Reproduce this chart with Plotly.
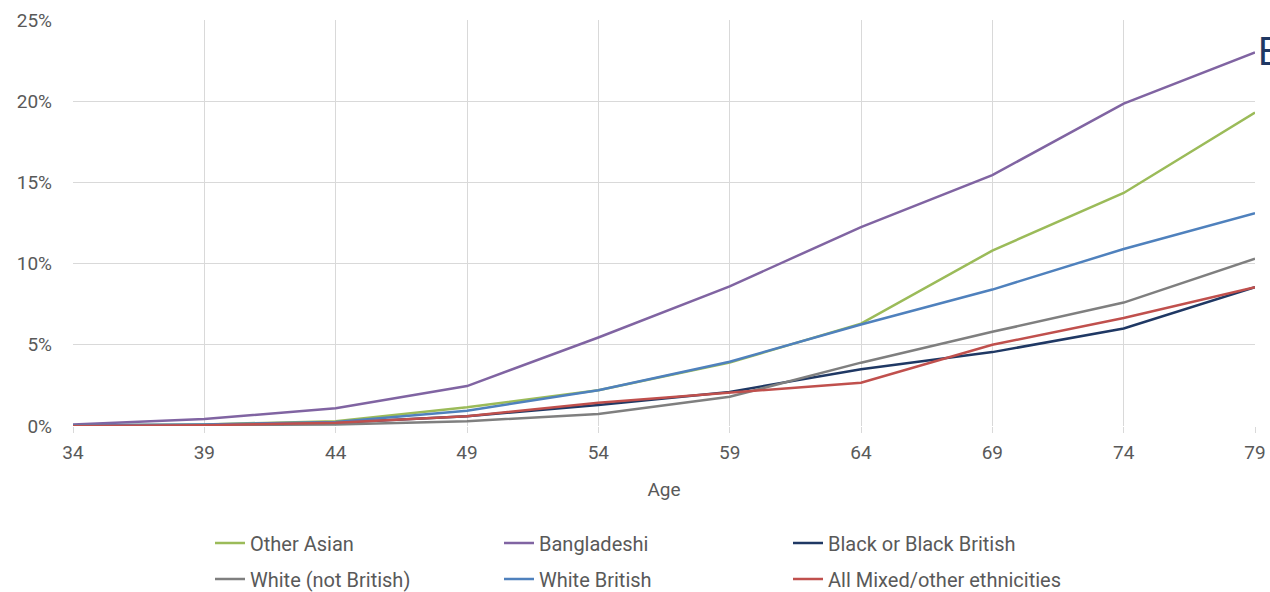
import plotly.graph_objects as go

ages = [34, 39, 44, 49, 54, 59, 64, 69, 74, 79]

other_asian = [0.05, 0.1, 0.3, 1.15, 2.2, 3.9, 6.3, 10.8, 14.35, 19.3]
bangladeshi = [0.1, 0.43, 1.1, 2.46, 5.45, 8.6, 12.25, 15.45, 19.85, 23.0]
black_british = [0.0, 0.05, 0.2, 0.6, 1.3, 2.1, 3.5, 4.55, 6.0, 8.55]
white_not_british = [0.0, 0.05, 0.1, 0.3, 0.74, 1.8, 3.9, 5.8, 7.6, 10.3]
white_british = [0.05, 0.1, 0.25, 0.94, 2.2, 3.96, 6.25, 8.4, 10.9, 13.1]
mixed_other = [0.0, 0.05, 0.2, 0.6, 1.43, 2.05, 2.67, 5.0, 6.65, 8.55]

series = [
    ("Other Asian", other_asian, "#9BBB59", "legend"),
    ("Bangladeshi", bangladeshi, "#8064A2", "legend"),
    ("Black or Black British", black_british, "#1F3864", "legend"),
    ("White (not British)", white_not_british, "#7F7F7F", "legend2"),
    ("White British", white_british, "#4F81BD", "legend2"),
    ("All Mixed/other ethnicities", mixed_other, "#C0504D", "legend2"),
]

font_family = "Roboto, Noto Sans, sans-serif"
text_color = "#595959"

fig = go.Figure()
for name, vals, color, lg in series:
    fig.add_trace(go.Scatter(
        x=ages, y=[v / 100 for v in vals], mode="lines", name=name,
        line=dict(color=color, width=2.5), legend=lg,
        hoverinfo="skip",
    ))

W, H = 1270, 592

legend_common = dict(
    orientation="h", xanchor="left", yanchor="middle",
    xref="container", yref="container",
    entrywidth=244, entrywidthmode="pixels",
    font=dict(family=font_family, size=20, color=text_color),
    bgcolor="rgba(0,0,0,0)", itemclick=False, itemdoubleclick=False,
    tracegroupgap=0,
)

fig.update_layout(
    width=W, height=H,
    margin=dict(l=73, r=15, t=20, b=166, autoexpand=False),
    paper_bgcolor="white", plot_bgcolor="white",
    showlegend=True,
    legend=dict(x=210 / W, y=1 - 543 / H, **legend_common),
    legend2=dict(x=210 / W, y=1 - 579 / H, **legend_common),
    xaxis=dict(
        range=[34, 79], tickmode="array", tickvals=ages,
        ticktext=[str(a) for a in ages],
        showgrid=True, gridcolor="#D9D9D9", gridwidth=1.3,
        zeroline=False, showline=False,
        ticks="outside", ticklen=6, tickcolor="#D9D9D9",
        ticklabelstandoff=3, ticklabeloverflow="allow",
        tickfont=dict(family=font_family, size=19, color=text_color),
        title=dict(text="Age", font=dict(family=font_family, size=19, color=text_color), standoff=19),
    ),
    yaxis=dict(
        range=[0, 0.25], tickvals=[0, 0.05, 0.10, 0.15, 0.20, 0.25],
        ticktext=["0%", "5%", "10%", "15%", "20%", "25%"],
        showgrid=True, gridcolor="#D9D9D9", gridwidth=1.3,
        zeroline=False, showline=False, ticks="", ticklabelstandoff=20,
        tickfont=dict(family=font_family, size=19, color=text_color),
    ),
    annotations=[dict(
        text="E", xref="paper", yref="paper", x=(1256 - 73) / 1182, y=(426 - 52) / 406,
        xanchor="left", yanchor="middle", showarrow=False,
        font=dict(family=font_family, size=38, color="#1F3864"),
    )],
)

fig.write_html(
    "out.html",
    config={"displayModeBar": False},
    post_script="document.body.style.margin='0';document.body.style.overflow='hidden';",
)
